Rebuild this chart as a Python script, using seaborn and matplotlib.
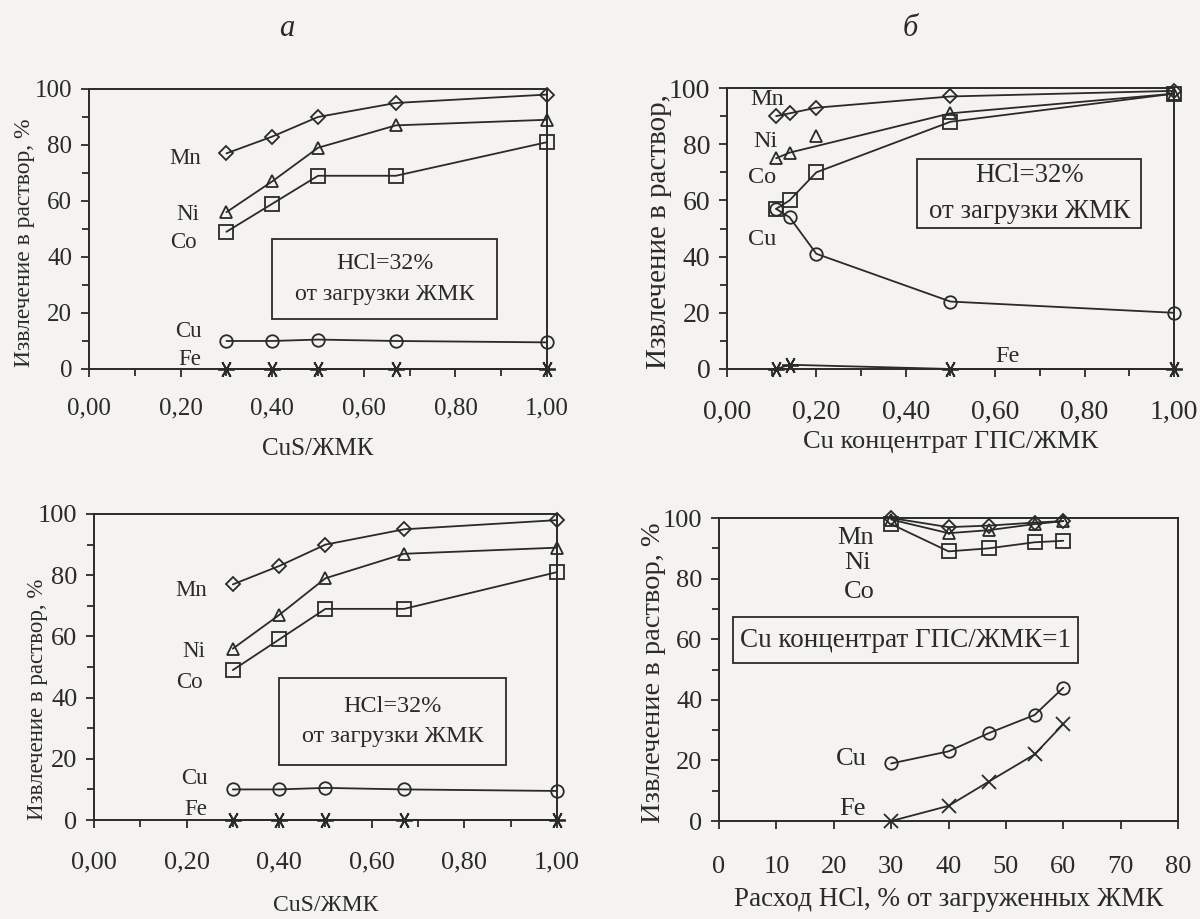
import matplotlib
matplotlib.use("Agg")
import matplotlib.pyplot as plt
import seaborn as sns
import pandas as pd
from matplotlib.patches import Rectangle
from matplotlib.ticker import MultipleLocator

# panel a / c: CuS/ЖМК ratio
ratio_cus = [0.30, 0.40, 0.50, 0.67, 1.00]
mn_a = [77, 83, 90, 95, 98]
ni_a = [56, 67, 79, 87, 89]
co_a = [49, 59, 69, 69, 81]
cu_a = [10, 10, 10.5, 10, 9.5]
fe_a = [0, 0, 0, 0, 0]

# panel b: Cu концентрат ГПС/ЖМК
ratio_gps = [0.11, 0.14, 0.20, 0.50, 1.00]
mn_b = [90, 91, 93, 97, 99]
ni_b_x = [0.11, 0.14, 0.50, 1.00]
ni_b = [75, 77, 91, 98]
ni_b_outlier_x = [0.20]
ni_b_outlier = [83]
co_b = [57, 60, 70, 88, 98]
cu_b = [57, 54, 41, 24, 20]
fe_b_x = [0.11, 0.14, 0.50, 1.00]
fe_b = [0, 1.5, 0, 0]

# panel d: расход HCl
hcl = [30, 40, 47, 55, 60]
mn_d = [100, 97, 97.5, 98.5, 99]
ni_d = [99.5, 95, 96, 98, 99]
co_d = [98, 89, 90, 92, 92.5]
cu_d = [19, 23, 29, 35, 44]
fe_d = [0, 5, 13, 22, 32]

ratio_ticks = [0.0, 0.2, 0.4, 0.6, 0.8, 1.0]
ratio_ticklabels = ["0,00", "0,20", "0,40", "0,60", "0,80", "1,00"]
hcl_ticks = [0, 10, 20, 30, 40, 50, 60, 70, 80]
y_ticks = [0, 20, 40, 60, 80, 100]

sns.set_style("ticks")
plt.rcParams["font.family"] = ["Liberation Serif", "DejaVu Serif"]

BG = "#f4f3ef"
INK = "#2a2a2a"

fig = plt.figure(figsize=(12, 9.19), dpi=100, facecolor=BG)

ax_a = fig.add_axes([0.0742, 0.5985, 0.3817, 0.3047])
ax_b = fig.add_axes([0.6058, 0.5985, 0.3725, 0.3057])
ax_c = fig.add_axes([0.0783, 0.1077, 0.3858, 0.3330])
ax_d = fig.add_axes([0.5992, 0.1066, 0.3825, 0.3297])

MARK = {"Mn": "D", "Ni": "^", "Co": "s", "Cu": "o", "Fe": (6, 2, 90), "Fex": "x"}
MSIZE = {"Mn": 7, "Ni": 9, "Co": 9.5, "Cu": 9, "Fe": 12, "Fex": 10}


def series(ax, x, y, el, line=True):
    df = pd.DataFrame({"x": x, "y": y})
    sns.lineplot(data=df, x="x", y="y", ax=ax, color=INK, estimator=None,
                 linewidth=1.3 if line else 0, marker=MARK[el],
                 markersize=MSIZE[el], markerfacecolor="none",
                 markeredgecolor=INK, markeredgewidth=1.3, clip_on=False)


def style_axes(ax, xlim, xticks, xticklabels, xminor, tsize, pad):
    ax.set_facecolor(BG)
    ax.set_xlim(*xlim)
    ax.set_ylim(0, 100)
    ax.set_xticks(xticks)
    ax.set_xticklabels(xticklabels)
    if xminor:
        ax.xaxis.set_minor_locator(MultipleLocator(xminor))
    ax.set_yticks(y_ticks)
    ax.yaxis.set_minor_locator(MultipleLocator(10))
    for s in ax.spines.values():
        s.set_color(INK)
        s.set_linewidth(1.4)
    ax.tick_params(axis="both", which="both", direction="out", color=INK,
                   width=1.3, labelcolor=INK, labelsize=tsize)
    ax.tick_params(axis="both", which="major", length=6)
    ax.tick_params(axis="both", which="minor", length=5)
    ax.tick_params(axis="x", pad=pad)
    ax.tick_params(axis="y", pad=6)


def box(ax, x0, y0, x1, y1, text, size):
    ax.add_patch(Rectangle((x0, y0), x1 - x0, y1 - y0, fill=False,
                           ec=INK, lw=1.3, zorder=3))
    ax.text((x0 + x1) / 2, (y0 + y1) / 2, text, ha="center", va="center",
            fontsize=size, color=INK, linespacing=1.6)


def labels(ax, pos, size):
    for name, (x, y) in pos.items():
        ax.text(x, y, name, ha="right", va="center", fontsize=size, color=INK)


# --- panel a and its copy c
for ax, tsize, pad, xsize, xpad, ysize, ylx, yly, bsize in [
        (ax_a, 18, 14.3, 18, 13.5, 17, -0.118, 0.45, 17.2),
        (ax_c, 19, 16.7, 17, 15.5, 16.5, -0.099, 0.395, 17.4)]:
    series(ax, ratio_cus, mn_a, "Mn")
    series(ax, ratio_cus, ni_a, "Ni")
    series(ax, ratio_cus, co_a, "Co")
    series(ax, ratio_cus, cu_a, "Cu")
    series(ax, ratio_cus, fe_a, "Fe")
    style_axes(ax, (0, 1.0), ratio_ticks, ratio_ticklabels, 0.1, tsize, pad)
    ax.set_xlabel("CuS/ЖМК", fontsize=xsize, color=INK, labelpad=xpad)
    ax.set_ylabel("Извлечение в раствор, %", fontsize=ysize, color=INK)
    ax.yaxis.set_label_coords(ylx, yly)
    labels(ax, {"Mn": (0.245, 75), "Ni": (0.24, 55), "Co": (0.235, 45),
                "Cu": (0.245, 13.5), "Fe": (0.245, 3.5)}, 16.5)
    box(ax, 0.40, 18, 0.89, 46.3, "HCl=32%\nот загрузки ЖМК", bsize)

# --- panel b
series(ax_b, ratio_gps, mn_b, "Mn")
series(ax_b, ni_b_x, ni_b, "Ni")
series(ax_b, ni_b_outlier_x, ni_b_outlier, "Ni", line=False)
series(ax_b, ratio_gps, co_b, "Co")
series(ax_b, ratio_gps, cu_b, "Cu")
series(ax_b, fe_b_x, fe_b, "Fe")
style_axes(ax_b, (0, 1.0), ratio_ticks, ratio_ticklabels, 0.1, 20, 16)
ax_b.set_xlabel("Cu концентрат ГПС/ЖМК", fontsize=19, color=INK, labelpad=5)
ax_b.set_ylabel("Извлечение в раствор,", fontsize=21, color=INK)
ax_b.yaxis.set_label_coords(-0.123, 0.49)
labels(ax_b, {"Mn": (0.128, 96), "Ni": (0.113, 81), "Co": (0.11, 68),
              "Cu": (0.11, 46)}, 17.5)
ax_b.text(0.6, 4.5, "Fe", ha="left", va="center", fontsize=17.5, color=INK)
box(ax_b, 0.426, 50.2, 0.927, 74.7, "HCl=32%\nот загрузки ЖМК", 19.3)

# --- panel d
series(ax_d, hcl, mn_d, "Mn")
series(ax_d, hcl, ni_d, "Ni")
series(ax_d, hcl, co_d, "Co")
series(ax_d, hcl, cu_d, "Cu")
series(ax_d, hcl, fe_d, "Fex")
style_axes(ax_d, (0, 80), hcl_ticks, [str(t) for t in hcl_ticks], None, 19, 19)
ax_d.set_xlabel("Расход HCl, % от загруженных ЖМК", fontsize=19.5, color=INK,
                labelpad=6.3)
ax_d.set_ylabel("Извлечение в раствор, %", fontsize=20.5, color=INK)
ax_d.yaxis.set_label_coords(-0.115, 0.49)
labels(ax_d, {"Mn": (27.0, 93.5), "Ni": (26.5, 85), "Co": (27.2, 75.5),
              "Cu": (25.8, 20.5), "Fe": (25.5, 4)}, 19)
box(ax_d, 2.4, 52, 62.5, 67.2, "Cu концентрат ГПС/ЖМК=1", 19.5)

fig.text(287 / 1200, 1 - 28 / 919, "а", fontsize=22, style="italic",
         ha="center", va="center", color=INK)
fig.text(910 / 1200, 1 - 28 / 919, "б", fontsize=22, style="italic",
         ha="center", va="center", color=INK)

fig.savefig("out.png", dpi=100, facecolor=BG)
